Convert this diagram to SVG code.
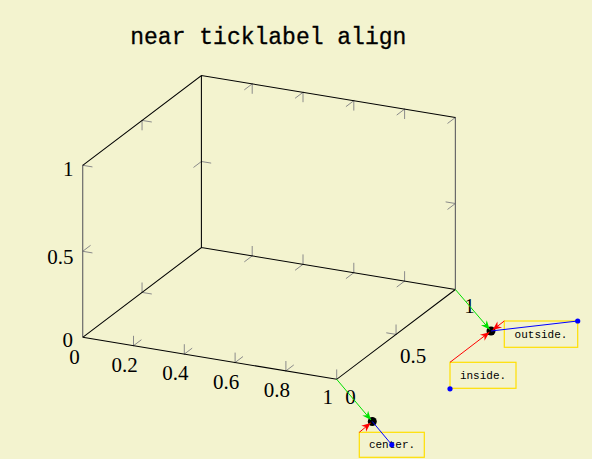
<svg xmlns="http://www.w3.org/2000/svg" width="592" height="459" viewBox="0 0 592 459">
<style>
.bg{fill:#f3f3cf}
.tick{stroke:#8a8a8a;stroke-width:1;fill:none;stroke-linecap:round}
.edge{stroke:#000;stroke-width:1.05;fill:none}
.gedge{stroke:#6a6a6a;stroke-width:1.2;fill:none}
.tl{font-family:"Liberation Serif","DejaVu Serif",serif;font-size:21px;fill:#000}
.title{font-family:"Liberation Mono","DejaVu Sans Mono",monospace;font-size:23px;fill:#000;text-anchor:middle;stroke:#000;stroke-width:0.3}
.box{fill:none;stroke:#ffdf00;stroke-width:1.2}
.bt{font-family:"Liberation Mono","DejaVu Sans Mono",monospace;font-size:11px;fill:#000;text-anchor:middle}
.g{stroke:#00e000;stroke-width:1;fill:none}
.r{stroke:#ff0000;stroke-width:1;fill:none}
.b{stroke:#0000ff;stroke-width:1;fill:none}
</style>
<defs>
<marker id="ag" markerUnits="userSpaceOnUse" orient="auto" overflow="visible" refX="0" refY="0" markerWidth="10" markerHeight="10"><path d="M0,0 L-9,-3.8 L-6.3,0 L-9,3.8 Z" fill="#00e000"/></marker>
<marker id="ar" markerUnits="userSpaceOnUse" orient="auto" overflow="visible" refX="0" refY="0" markerWidth="10" markerHeight="10"><path d="M0,0 L-9,-3.8 L-6.3,0 L-9,3.8 Z" fill="#ff0000"/></marker>
</defs>
<rect class="bg" x="0" y="0" width="592" height="459"/>
<text class="title" x="268.3" y="44">near ticklabel align</text>
<g id="ticks">
<path class="tick" d="M133.5 345.7v-9.5M133.5 345.7l7.58 -5.73M184.3 354.1v-9.5M184.3 354.1l7.58 -5.73M235.1 362.5v-9.5M235.1 362.5l7.58 -5.73M285.9 370.9v-9.5M285.9 370.9l7.58 -5.73M336.7 379.3v-9.5"/>
<path class="tick" d="M252.2 255.9v-9.5M252.2 255.9l-7.58 5.73M303 264.3v-9.5M303 264.3l-7.58 5.73M353.8 272.7v-9.5M353.8 272.7l-7.58 5.73M404.6 281.1v-9.5M404.6 281.1l-7.58 5.73"/>
<path class="tick" d="M252.2 83.9v9.5M252.2 83.9l-7.58 5.73M303 92.3v9.5M303 92.3l-7.58 5.73M353.8 100.7v9.5M353.8 100.7l-7.58 5.73M404.6 109.1v9.5M404.6 109.1l-7.58 5.73M455.4 117.5l-7.58 5.73"/>
<path class="tick" d="M142.05 292.4v-9.5M142.05 292.4l9.375 1.55M142.05 120.4v9.5M142.05 120.4l9.375 1.55M396.05 334.4v-9.5M396.05 334.4l-9.375 -1.55"/>
<path class="tick" d="M82.7 251.3l9.375 1.55M82.7 251.3l7.58 -5.73M82.7 165.3l9.375 1.55M201.4 161.5l9.375 1.55M201.4 161.5l-7.58 5.73M455.4 203.5l-9.375 -1.55M455.4 203.5l-7.58 5.73"/>
</g>
<g id="box-edges">
<path class="gedge" d="M82.7 337.3V165.3M455.4 117.5V289.5"/>
<path class="edge" d="M82.7 165.3L201.4 75.5L455.4 117.5M201.4 75.5V247.5M82.7 337.3L201.4 247.5L455.4 289.5M82.7 337.3L336.7 379.3L455.4 289.5"/>
</g>
<g id="zlabels" class="tl" text-anchor="end">
<text x="73.5" y="176">1</text>
<text x="73.5" y="264">0.5</text>
<text x="73" y="347">0</text>
</g>
<g id="xlabels" class="tl" text-anchor="middle">
<text x="74.5" y="364">0</text>
<text x="124.5" y="372">0.2</text>
<text x="175.3" y="380.4">0.4</text>
<text x="226.1" y="388.8">0.6</text>
<text x="276.9" y="397.2">0.8</text>
<text x="327.7" y="404">1</text>
</g>
<g id="ylabels" class="tl" text-anchor="middle">
<text x="350.5" y="404">0</text>
<text x="413" y="362.5">0.5</text>
<text x="469.5" y="312.5">1</text>
</g>
<g id="node-center">
<rect class="box" x="359.3" y="432.3" width="65" height="25"/>
<text class="bt" x="392" y="448">center.</text>
</g>
<g id="node-outside">
<rect class="box" x="504.3" y="321" width="73.4" height="26.3"/>
<text class="bt" x="541" y="337.6">outside.</text>
</g>
<g id="node-inside">
<rect class="box" x="450" y="362.3" width="66" height="26"/>
<text class="bt" x="483" y="379">inside.</text>
</g>
<g id="points">
<circle cx="372.3" cy="421.5" r="4.5" fill="#000"/>
<circle cx="491" cy="331" r="4.5" fill="#000"/>
</g>
<g id="connectors">
<path class="b" d="M372.3 421.5L391.8 444.8"/>
<circle cx="391.8" cy="444.8" r="2.6" fill="#0000ff"/>
<path class="b" d="M491 331L577.7 321"/>
<circle cx="577.7" cy="321" r="2.6" fill="#0000ff"/>
<circle cx="450" cy="388.8" r="2.6" fill="#0000ff"/>
<path class="g" d="M336.7 379.3L371 420" marker-end="url(#ag)"/>
<path class="g" d="M455.4 289.5L489.7 329.5" marker-end="url(#ag)"/>
<path class="r" d="M359.3 432.3L370.6 423" marker-end="url(#ar)"/>
<path class="r" d="M504.3 321L492.6 330" marker-end="url(#ar)"/>
<path class="r" d="M450 362.3L489.4 332.2" marker-end="url(#ar)"/>
</g>
</svg>
